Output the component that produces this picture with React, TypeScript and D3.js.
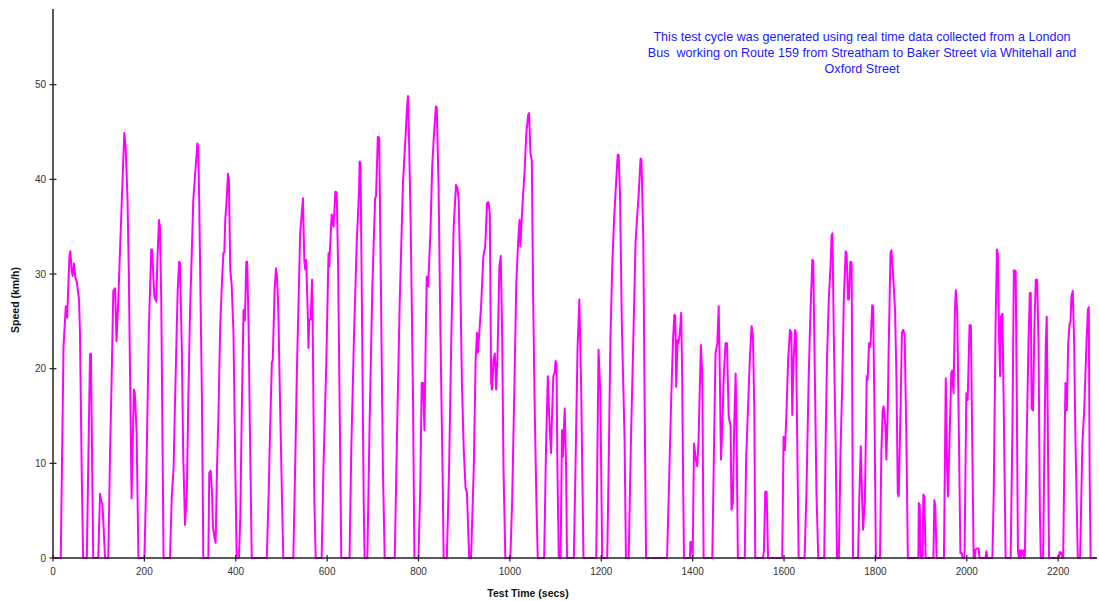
import React from 'react';
import * as d3 from 'd3';

// London bus test cycle, route 159
const times = [
  0, 17, 23, 28, 31, 36, 38, 41, 43, 46, 49, 52, 57, 59, 63, 66,
  74, 81, 83, 88,
  99, 103, 106, 108, 110, 114,
  121, 125, 128, 132, 136, 139, 143, 147, 156, 159, 163, 166, 169, 172, 175, 177, 179, 183, 187,
  200, 204, 207, 210, 215, 217, 220, 222, 226, 229, 232, 234, 237, 239, 242,
  256, 260, 264, 267, 271, 273, 276, 278, 282, 285, 289, 293, 296, 300, 304, 307, 316, 318, 320, 326, 329,
  340, 342, 345, 348, 350, 353, 356, 359, 362, 366, 370, 373, 375, 377, 380, 383, 385, 388, 391, 395, 399, 402,
  407, 410, 413, 417, 420, 423, 425, 428, 431, 435,
  468, 472, 475, 479, 481, 485, 488, 490, 493, 497, 501, 504,
  526, 530, 534, 537, 541, 547, 550, 552, 554, 558, 559, 561, 564, 567, 569, 572, 575,
  588, 592, 598, 603, 605, 606, 610, 614, 618, 621, 624, 627, 631,
  649, 653, 659, 665, 670, 671, 673, 676, 680, 682,
  688, 693, 699, 705, 707, 711, 714, 718, 722, 726,
  748, 753, 759, 766, 772, 775, 777, 779, 783, 788, 791,
  800, 804, 807, 810, 813, 816, 818, 821, 826, 830, 834, 838, 840, 844, 848, 853, 855,
  862, 867, 872, 877, 882, 885, 888, 891, 895, 899, 903, 906, 909, 911,
  915, 921, 925, 928, 930, 933, 937, 942, 946, 950, 953, 956, 959, 961, 964, 967, 970, 973, 977, 980, 983, 986, 990,
  1001, 1005, 1010, 1014, 1018, 1021, 1023, 1025, 1029, 1032, 1036, 1040, 1042, 1045, 1048, 1051, 1054, 1058, 1061,
  1075, 1079, 1083, 1086, 1090, 1092, 1095, 1098, 1100, 1102, 1104, 1107,
  1111, 1114, 1116, 1118, 1120, 1123, 1125,
  1140, 1143, 1148, 1152, 1156, 1161,
  1189, 1194, 1198, 1202,
  1213, 1216, 1220, 1224, 1228, 1232, 1236, 1238, 1241, 1245, 1251, 1254,
  1260, 1265, 1271, 1275, 1278, 1282, 1286, 1288, 1292, 1295, 1298,
  1344, 1348, 1353, 1357, 1360, 1362, 1364, 1367, 1369, 1372, 1375, 1377, 1379, 1381,
  1394, 1395, 1398, 1400, 1403, 1407, 1410, 1413, 1418, 1421, 1424,
  1443, 1446, 1450, 1454, 1457, 1459, 1462, 1465, 1468, 1472, 1475, 1479, 1483, 1485, 1488, 1491, 1494, 1496, 1499,
  1514, 1517, 1521, 1525, 1529, 1532, 1535, 1537,
  1554, 1556, 1559, 1562, 1565,
  1596, 1599, 1602, 1605, 1609, 1613, 1616, 1618, 1621, 1624, 1626, 1629, 1632,
  1645, 1649, 1654, 1658, 1662, 1664, 1667, 1671, 1675,
  1688, 1691, 1694, 1698, 1702, 1704, 1706, 1709, 1713, 1716,
  1720, 1724, 1727, 1731, 1735, 1737, 1740, 1742, 1745, 1748, 1751,
  1762, 1765, 1768, 1771, 1773, 1777, 1781, 1783, 1786, 1789, 1793, 1795, 1798, 1801,
  1810, 1813, 1816, 1818, 1822, 1824, 1827, 1829, 1833, 1835, 1838, 1843, 1846, 1849, 1851, 1855, 1858, 1861, 1864, 1868, 1871,
  1894, 1895, 1897, 1899,
  1903, 1905, 1907, 1910,
  1927, 1929, 1931, 1934,
  1950, 1954, 1957, 1959, 1962, 1966, 1968, 1971, 1974, 1976, 1979, 1983, 1986, 1989, 1991,
  1995, 1999, 2002, 2006, 2009, 2012, 2015,
  2018, 2019, 2022, 2026, 2028, 2041, 2043, 2045,
  2056, 2059, 2063, 2066, 2068, 2071, 2073, 2075, 2078, 2081, 2085,
  2096, 2100, 2103, 2107, 2109, 2112, 2114, 2115, 2118, 2119, 2121, 2124, 2125,
  2127, 2131, 2135, 2138, 2140, 2142, 2145, 2148, 2151, 2154, 2157, 2160, 2162,
  2167, 2170, 2173, 2175, 2177, 2180,
  2201, 2203, 2206, 2209,
  2211, 2214, 2216, 2219, 2222, 2225, 2227, 2229, 2232, 2235, 2238, 2243,
  2248, 2253, 2257, 2262, 2265, 2267, 2269, 2271, 2284,
];

const speeds = [
  0, 0, 22.3, 26.6, 25.4, 31.9, 32.4, 30.3, 29.8, 31.1, 29.6, 29.2, 27.3, 23.8, 8.6, 0,
  0, 21.5, 21.6, 0,
  0, 6.8, 5.9, 5.8, 4.0, 0,
  0, 11.4, 18.1, 28.2, 28.5, 22.9, 27.3, 32.9, 44.9, 43.5, 38, 30, 18, 6.3, 13.2, 17.8, 17.5, 13.2, 0,
  0, 7.9, 16.3, 24.5, 32.6, 32.6, 29.4, 27.6, 27.1, 32.2, 35.7, 35.0, 27, 16.3, 0,
  0, 6.5, 9.6, 16.3, 24.5, 28.3, 31.3, 31.1, 22, 11, 3.5, 7.0, 16.3, 26.2, 32.6, 37.8, 43.8, 43.5, 37.8, 16.7, 0,
  0, 9.0, 9.2, 7, 3.3, 2.3, 1.6, 9.6, 14.9, 24.5, 29.4, 32.2, 32.3, 35.7, 37.8, 40.6, 40, 30.4, 28.9, 23.8, 9.6, 0,
  0, 4.4, 14.9, 26.2, 25.1, 31.3, 31.3, 24.8, 13.5, 0,
  0, 6.8, 13.2, 20.6, 21, 28.3, 30.6, 29.9, 26.6, 16.3, 6.8, 0,
  0, 9.6, 20.2, 26.2, 34.3, 38.0, 31.5, 30.5, 31.5, 25.2, 22.2, 25.2, 25.2, 29.4, 21.7, 6.1, 0,
  0, 9.6, 20.2, 32.2, 30.8, 32.4, 36.3, 35, 38.7, 38.6, 30.8, 17.8, 0,
  0, 11.8, 23.8, 33.6, 38.9, 41.9, 41.7, 27.3, 6.1, 0,
  0, 14.3, 28.7, 38, 38.2, 44.5, 44.4, 27.3, 9.6, 0,
  0, 13.2, 27.3, 39.6, 44.9, 47.7, 48.8, 44.9, 35, 16.7, 0,
  0, 7.9, 18.5, 18.5, 13.5, 23.8, 29.7, 28.7, 34.3, 41.4, 44.9, 47.7, 47.6, 38.9, 23.8, 7.9, 0,
  0, 9.6, 23.8, 35, 39.4, 39.1, 37.8, 30.8, 18.5, 11.4, 7.4, 6.9, 2.6, 0,
  0, 9.6, 20.9, 23.8, 21.7, 23.8, 26.6, 31.9, 32.9, 37.5, 37.6, 36.4, 18.5, 17.8, 20.9, 21.6, 17.8, 21.6, 30.8, 31.9, 23.8, 9.6, 0,
  0, 6.1, 18.5, 29, 33.3, 35.7, 32.9, 35, 38.5, 40.7, 44.9, 46.8, 47, 42.8, 42, 27.3, 16.7, 6.1, 0,
  0, 11.4, 19.2, 15, 11.1, 14.6, 19.2, 19.6, 20.8, 20.6, 9.6, 0,
  0, 13.5, 10.7, 13.5, 15.8, 9.6, 0,
  0, 7.9, 22, 27.3, 18.1, 0,
  0, 22, 17.4, 0,
  0, 9, 23.1, 30.8, 35.7, 39.3, 42.6, 42.6, 38.5, 24.8, 12.5, 0,
  0, 12.5, 24.8, 33.3, 35.7, 38.5, 42.2, 42.1, 33.6, 16, 0,
  0, 7.2, 16.7, 23, 25.7, 25.6, 18.1, 23, 22.7, 23.8, 25.9, 19.5, 9, 0,
  0, 1.7, 1.7, 0, 12.1, 10.4, 9.7, 12.5, 22.5, 19.5, 0,
  0, 9.3, 21.6, 22.7, 26.6, 20.9, 10.4, 13.9, 19.2, 22.7, 22.7, 14.9, 14, 5.1, 5.8, 14, 19.5, 14, 0,
  0, 10.4, 15.6, 20.9, 24.5, 23.4, 15.6, 0,
  0, 0.8, 7, 7, 0,
  0, 12.8, 11.4, 14.9, 20.9, 24.1, 23.8, 15.1, 20.9, 24.1, 23.8, 12.1, 0,
  0, 6.8, 19.2, 26.2, 31.5, 31.4, 20.9, 6.8, 0,
  0, 12.1, 20.9, 27.3, 31.1, 34, 34.3, 23.4, 12, 0,
  0, 12.1, 17.4, 27.6, 32.4, 32.2, 27.3, 27.3, 31.3, 31.2, 0,
  0, 6.8, 11.8, 6.1, 3, 6.1, 19.2, 18.8, 22.7, 22.3, 26.7, 26.6, 15.6, 0,
  0, 11.1, 15.6, 16, 13.9, 10.4, 15.6, 22, 32.2, 32.5, 30.4, 26.2, 19.2, 6.8, 6.5, 15.6, 23.8, 24.1, 23.5, 12.1, 0,
  0, 5.8, 5.6, 0,
  0, 6.7, 6.5, 0,
  0, 6.1, 5.5, 0,
  0, 19, 9.3, 6.5, 12.1, 19.5, 19.8, 17.4, 26.2, 28.3, 26.1, 12.1, 0.5, 0.5, 0,
  0, 17.4, 16.7, 24.6, 24.6, 12.1, 0,
  0, 0.9, 1.0, 1.0, 0, 0, 0.7, 0,
  0, 6.8, 24.5, 32.6, 32.1, 22.7, 19.2, 25.5, 25.8, 15.6, 0,
  0, 13.9, 30.4, 30.3, 19.2, 0.7, 0, 0.8, 0.8, 0, 0.8, 0.8, 0,
  0, 12.1, 22.7, 28, 28, 15.8, 15.6, 24.5, 29.4, 29.4, 22.7, 5, 0,
  0, 12.1, 22.7, 25.5, 15.6, 0,
  0, 0.6, 0.6, 0,
  0, 12.1, 18.5, 15.6, 22.7, 24.7, 25, 27.6, 28.2, 22.7, 12.1, 0,
  0, 12.1, 15.6, 22.7, 26.2, 26.5, 8.6, 0, 0,
];

const xTicks = [0, 200, 400, 600, 800, 1000, 1200, 1400, 1600, 1800, 2000, 2200];
const yTicks = [0, 10, 20, 30, 40, 50];
const noteLines = [
  'This test cycle was generated using real time data collected from a London',
  'Bus  working on Route 159 from Streatham to Baker Street via Whitehall and',
  'Oxford Street',
];

const W = 1099;
const H = 601;
const font = '"Liberation Sans", Arial, sans-serif';

export default function App() {
  const x = d3.scaleLinear().domain([0, 2285]).range([53, 1097]);
  const y = d3.scaleLinear().domain([0, 58]).range([558, 9]);

  const pts: [number, number][] = times.map((t, i) => [t, speeds[i]]);
  const line = d3.line<[number, number]>()
    .x(d => x(d[0]))
    .y(d => y(d[1]));

  return (
    <div>
      <style>{'body{margin:0}'}</style>
      <svg width={W} height={H} style={{ display: 'block' }} fontFamily={font}>
        <rect width={W} height={H} fill="#fff" />

        <path d={line(pts) || ''} fill="none" stroke="#ff00ff" strokeWidth={2} strokeLinejoin="round" />

        {/* axes */}
        <line x1={x(0)} x2={x(0)} y1={y(58)} y2={y(0)} stroke="#222" strokeWidth={1.5} />
        <line x1={x(0)} x2={1097} y1={y(0)} y2={y(0)} stroke="#222" strokeWidth={1.5} />

        {yTicks.map(v => (
          <g key={'y' + v}>
            <line x1={x(0) - 3.5} x2={x(0) + 3.5} y1={y(v)} y2={y(v)} stroke="#222" strokeWidth={1.2} />
            <text x={x(0) - 7} y={y(v) + 3.5} textAnchor="end" fontSize={10} fill="#333">{v}</text>
          </g>
        ))}

        {xTicks.map(v => (
          <g key={'x' + v}>
            <line x1={x(v)} x2={x(v)} y1={y(0) - 3} y2={y(0) + 3.5} stroke="#222" strokeWidth={1.2} />
            <text x={x(v)} y={575} textAnchor="middle" fontSize={10} fill="#333">{v}</text>
          </g>
        ))}

        <text x={528} y={597} textAnchor="middle" fontSize={10.5} fontWeight="bold" fill="#111">Test Time (secs)</text>
        <text transform="translate(19,300) rotate(-90)" textAnchor="middle" fontSize={10.5} fontWeight="bold" fill="#111">Speed (km/h)</text>

        {noteLines.map((s, i) => (
          <text key={i} x={862} y={41 + i * 16} textAnchor="middle" fontSize={12.6} fill="#1a1aff" xmlSpace="preserve">{s}</text>
        ))}
      </svg>
    </div>
  );
}
